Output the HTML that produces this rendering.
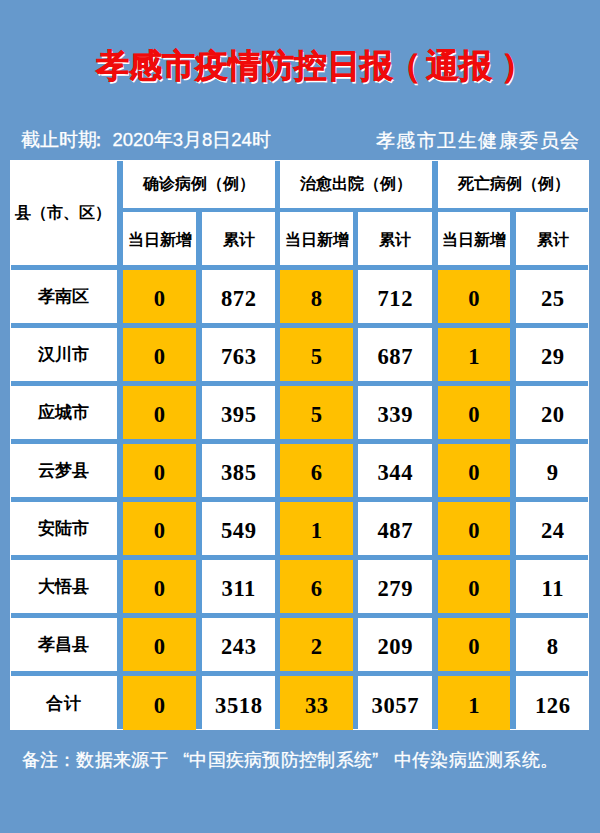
<!DOCTYPE html>
<html><head><meta charset="utf-8"><style>
html,body{margin:0;padding:0}
body{width:600px;height:833px;background:#6699CC;position:relative;overflow:hidden;font-family:"Liberation Sans",sans-serif}
div{position:absolute;box-sizing:border-box}
.c{display:flex;align-items:center;justify-content:center;white-space:nowrap;color:#000}
.h1{font-weight:bold;font-size:16px;padding-top:1px;font-family:"Liberation Serif",serif}
.h2{font-weight:bold;font-size:16px;padding-top:3px;font-family:"Liberation Serif",serif}
.nm{font-weight:bold;font-size:17px;font-family:"Liberation Serif",serif}
.num{font-weight:bold;font-size:22.6px;letter-spacing:0.6px;text-indent:0.6px;font-family:"Liberation Serif",serif}
.tc{text-align:center;color:#F00A0A;font-weight:bold;font-size:33px;line-height:52px;text-shadow:1.3px 1.5px 0 #fff;-webkit-text-stroke:0.7px #F00A0A;font-family:"Liberation Serif",serif;white-space:nowrap}
.date{left:21px;top:128px;color:#fff;-webkit-text-stroke:0.3px #fff;font-size:18.5px;line-height:24px;white-space:nowrap}
.org{right:19.5px;top:128.5px;color:#fff;-webkit-text-stroke:0.3px #fff;font-size:18.5px;line-height:24px;letter-spacing:1.5px;white-space:nowrap}
.note{left:21.5px;top:748px;color:#fff;-webkit-text-stroke:0.3px #fff;font-size:17.5px;line-height:24px;letter-spacing:0.3px;white-space:nowrap}
.fw{display:inline-block;width:21.4px}
</style></head><body>
<div class="tc" style="left:96.00px;top:40px;width:33px;height:52px">孝</div><div class="tc" style="left:129.00px;top:40px;width:33px;height:52px">感</div><div class="tc" style="left:162.00px;top:40px;width:33px;height:52px">市</div><div class="tc" style="left:195.00px;top:40px;width:33px;height:52px">疫</div><div class="tc" style="left:228.00px;top:40px;width:33px;height:52px">情</div><div class="tc" style="left:261.00px;top:40px;width:33px;height:52px">防</div><div class="tc" style="left:294.00px;top:40px;width:33px;height:52px">控</div><div class="tc" style="left:327.00px;top:40px;width:33px;height:52px">日</div><div class="tc" style="left:360.00px;top:40px;width:33px;height:52px">报</div><div class="tc" style="left:387.50px;top:40px;width:33px;height:52px">（</div><div class="tc" style="left:426.00px;top:40px;width:33px;height:52px">通</div><div class="tc" style="left:459.00px;top:40px;width:33px;height:52px">报</div><div class="tc" style="left:501.00px;top:40px;width:33px;height:52px">）</div>
<div class="date">截止时期<span style="display:inline-block;width:15.5px;text-indent:-8.5px">：</span>2020年3月8日24时</div>
<div class="org">孝感市卫生健康委员会</div>
<div class="" style="left:10px;top:160px;width:579px;height:570px;background:#fff"></div><div class="" style="left:123px;top:270px;width:73px;height:53px;background:#FFC000"></div><div class="" style="left:280px;top:270px;width:73px;height:53px;background:#FFC000"></div><div class="" style="left:438px;top:270px;width:72px;height:53px;background:#FFC000"></div><div class="" style="left:123px;top:328px;width:73px;height:53px;background:#FFC000"></div><div class="" style="left:280px;top:328px;width:73px;height:53px;background:#FFC000"></div><div class="" style="left:438px;top:328px;width:72px;height:53px;background:#FFC000"></div><div class="" style="left:123px;top:386px;width:73px;height:53px;background:#FFC000"></div><div class="" style="left:280px;top:386px;width:73px;height:53px;background:#FFC000"></div><div class="" style="left:438px;top:386px;width:72px;height:53px;background:#FFC000"></div><div class="" style="left:123px;top:444px;width:73px;height:53px;background:#FFC000"></div><div class="" style="left:280px;top:444px;width:73px;height:53px;background:#FFC000"></div><div class="" style="left:438px;top:444px;width:72px;height:53px;background:#FFC000"></div><div class="" style="left:123px;top:502px;width:73px;height:53px;background:#FFC000"></div><div class="" style="left:280px;top:502px;width:73px;height:53px;background:#FFC000"></div><div class="" style="left:438px;top:502px;width:72px;height:53px;background:#FFC000"></div><div class="" style="left:123px;top:560px;width:73px;height:53px;background:#FFC000"></div><div class="" style="left:280px;top:560px;width:73px;height:53px;background:#FFC000"></div><div class="" style="left:438px;top:560px;width:72px;height:53px;background:#FFC000"></div><div class="" style="left:123px;top:618px;width:73px;height:53px;background:#FFC000"></div><div class="" style="left:280px;top:618px;width:73px;height:53px;background:#FFC000"></div><div class="" style="left:438px;top:618px;width:72px;height:53px;background:#FFC000"></div><div class="" style="left:123px;top:676px;width:73px;height:54px;background:#FFC000"></div><div class="" style="left:280px;top:676px;width:73px;height:54px;background:#FFC000"></div><div class="" style="left:438px;top:676px;width:72px;height:54px;background:#FFC000"></div><div class="" style="left:117px;top:161px;width:6px;height:568px;background:#5B9BD5"></div><div class="" style="left:196px;top:208px;width:6px;height:521px;background:#5B9BD5"></div><div class="" style="left:275px;top:161px;width:5px;height:568px;background:#5B9BD5"></div><div class="" style="left:353px;top:208px;width:5px;height:521px;background:#5B9BD5"></div><div class="" style="left:432px;top:161px;width:6px;height:568px;background:#5B9BD5"></div><div class="" style="left:510px;top:208px;width:6px;height:521px;background:#5B9BD5"></div><div class="" style="left:123px;top:208px;width:465px;height:4px;background:#5B9BD5"></div><div class="" style="left:11px;top:265px;width:577px;height:5px;background:#5B9BD5"></div><div class="" style="left:11px;top:323px;width:577px;height:5px;background:#5B9BD5"></div><div class="" style="left:11px;top:381px;width:577px;height:5px;background:#5B9BD5"></div><div class="" style="left:11px;top:439px;width:577px;height:5px;background:#5B9BD5"></div><div class="" style="left:11px;top:497px;width:577px;height:5px;background:#5B9BD5"></div><div class="" style="left:11px;top:555px;width:577px;height:5px;background:#5B9BD5"></div><div class="" style="left:11px;top:613px;width:577px;height:5px;background:#5B9BD5"></div><div class="" style="left:11px;top:671px;width:577px;height:5px;background:#5B9BD5"></div><div class="c h1" style="left:10px;top:160px;width:106.5px;height:105px;">县（市、区）</div><div class="c h1" style="left:123px;top:160px;width:151.5px;height:48px;">确诊病例（例）</div><div class="c h1" style="left:280px;top:160px;width:152px;height:48px;">治愈出院（例）</div><div class="c h1" style="left:437.5px;top:160px;width:152.5px;height:48px;">死亡病例（例）</div><div class="c h2" style="left:123px;top:212.5px;width:73px;height:52.5px;">当日新增</div><div class="c h2" style="left:202px;top:212.5px;width:73px;height:52.5px;">累计</div><div class="c h2" style="left:280px;top:212.5px;width:73px;height:52.5px;">当日新增</div><div class="c h2" style="left:358px;top:212.5px;width:74px;height:52.5px;">累计</div><div class="c h2" style="left:438px;top:212.5px;width:72px;height:52.5px;">当日新增</div><div class="c h2" style="left:516px;top:212.5px;width:73px;height:52.5px;">累计</div><div class="c nm" style="left:10px;top:270px;width:107px;height:53px;">孝南区</div><div class="c num" style="left:123px;top:272.6px;width:73px;height:53.0px;">0</div><div class="c num" style="left:202px;top:272.6px;width:73px;height:53.0px;">872</div><div class="c num" style="left:280px;top:272.6px;width:73px;height:53.0px;">8</div><div class="c num" style="left:358px;top:272.6px;width:74px;height:53.0px;">712</div><div class="c num" style="left:438px;top:272.6px;width:72px;height:53.0px;">0</div><div class="c num" style="left:516px;top:272.6px;width:73px;height:53.0px;">25</div><div class="c nm" style="left:10px;top:328px;width:107px;height:53px;">汉川市</div><div class="c num" style="left:123px;top:330.6px;width:73px;height:53.0px;">0</div><div class="c num" style="left:202px;top:330.6px;width:73px;height:53.0px;">763</div><div class="c num" style="left:280px;top:330.6px;width:73px;height:53.0px;">5</div><div class="c num" style="left:358px;top:330.6px;width:74px;height:53.0px;">687</div><div class="c num" style="left:438px;top:330.6px;width:72px;height:53.0px;">1</div><div class="c num" style="left:516px;top:330.6px;width:73px;height:53.0px;">29</div><div class="c nm" style="left:10px;top:386px;width:107px;height:53px;">应城市</div><div class="c num" style="left:123px;top:388.6px;width:73px;height:53.0px;">0</div><div class="c num" style="left:202px;top:388.6px;width:73px;height:53.0px;">395</div><div class="c num" style="left:280px;top:388.6px;width:73px;height:53.0px;">5</div><div class="c num" style="left:358px;top:388.6px;width:74px;height:53.0px;">339</div><div class="c num" style="left:438px;top:388.6px;width:72px;height:53.0px;">0</div><div class="c num" style="left:516px;top:388.6px;width:73px;height:53.0px;">20</div><div class="c nm" style="left:10px;top:444px;width:107px;height:53px;">云梦县</div><div class="c num" style="left:123px;top:446.6px;width:73px;height:53.0px;">0</div><div class="c num" style="left:202px;top:446.6px;width:73px;height:53.0px;">385</div><div class="c num" style="left:280px;top:446.6px;width:73px;height:53.0px;">6</div><div class="c num" style="left:358px;top:446.6px;width:74px;height:53.0px;">344</div><div class="c num" style="left:438px;top:446.6px;width:72px;height:53.0px;">0</div><div class="c num" style="left:516px;top:446.6px;width:73px;height:53.0px;">9</div><div class="c nm" style="left:10px;top:502px;width:107px;height:53px;">安陆市</div><div class="c num" style="left:123px;top:504.6px;width:73px;height:53.0px;">0</div><div class="c num" style="left:202px;top:504.6px;width:73px;height:53.0px;">549</div><div class="c num" style="left:280px;top:504.6px;width:73px;height:53.0px;">1</div><div class="c num" style="left:358px;top:504.6px;width:74px;height:53.0px;">487</div><div class="c num" style="left:438px;top:504.6px;width:72px;height:53.0px;">0</div><div class="c num" style="left:516px;top:504.6px;width:73px;height:53.0px;">24</div><div class="c nm" style="left:10px;top:560px;width:107px;height:53px;">大悟县</div><div class="c num" style="left:123px;top:562.6px;width:73px;height:53.0px;">0</div><div class="c num" style="left:202px;top:562.6px;width:73px;height:53.0px;">311</div><div class="c num" style="left:280px;top:562.6px;width:73px;height:53.0px;">6</div><div class="c num" style="left:358px;top:562.6px;width:74px;height:53.0px;">279</div><div class="c num" style="left:438px;top:562.6px;width:72px;height:53.0px;">0</div><div class="c num" style="left:516px;top:562.6px;width:73px;height:53.0px;">11</div><div class="c nm" style="left:10px;top:618px;width:107px;height:53px;">孝昌县</div><div class="c num" style="left:123px;top:620.6px;width:73px;height:53.0px;">0</div><div class="c num" style="left:202px;top:620.6px;width:73px;height:53.0px;">243</div><div class="c num" style="left:280px;top:620.6px;width:73px;height:53.0px;">2</div><div class="c num" style="left:358px;top:620.6px;width:74px;height:53.0px;">209</div><div class="c num" style="left:438px;top:620.6px;width:72px;height:53.0px;">0</div><div class="c num" style="left:516px;top:620.6px;width:73px;height:53.0px;">8</div><div class="c nm" style="left:10px;top:676px;width:107px;height:54px;letter-spacing:1px;text-indent:1px">合计</div><div class="c num" style="left:123px;top:678.6px;width:73px;height:54.0px;">0</div><div class="c num" style="left:202px;top:678.6px;width:73px;height:54.0px;">3518</div><div class="c num" style="left:280px;top:678.6px;width:73px;height:54.0px;">33</div><div class="c num" style="left:358px;top:678.6px;width:74px;height:54.0px;">3057</div><div class="c num" style="left:438px;top:678.6px;width:72px;height:54.0px;">1</div><div class="c num" style="left:516px;top:678.6px;width:73px;height:54.0px;">126</div>
<div class="note">备注：数据来源于<span class="fw" style="text-align:right">“</span>中国疾病预防控制系统<span class="fw" style="text-align:left">”</span>中传染病监测系统。</div>
</body></html>
